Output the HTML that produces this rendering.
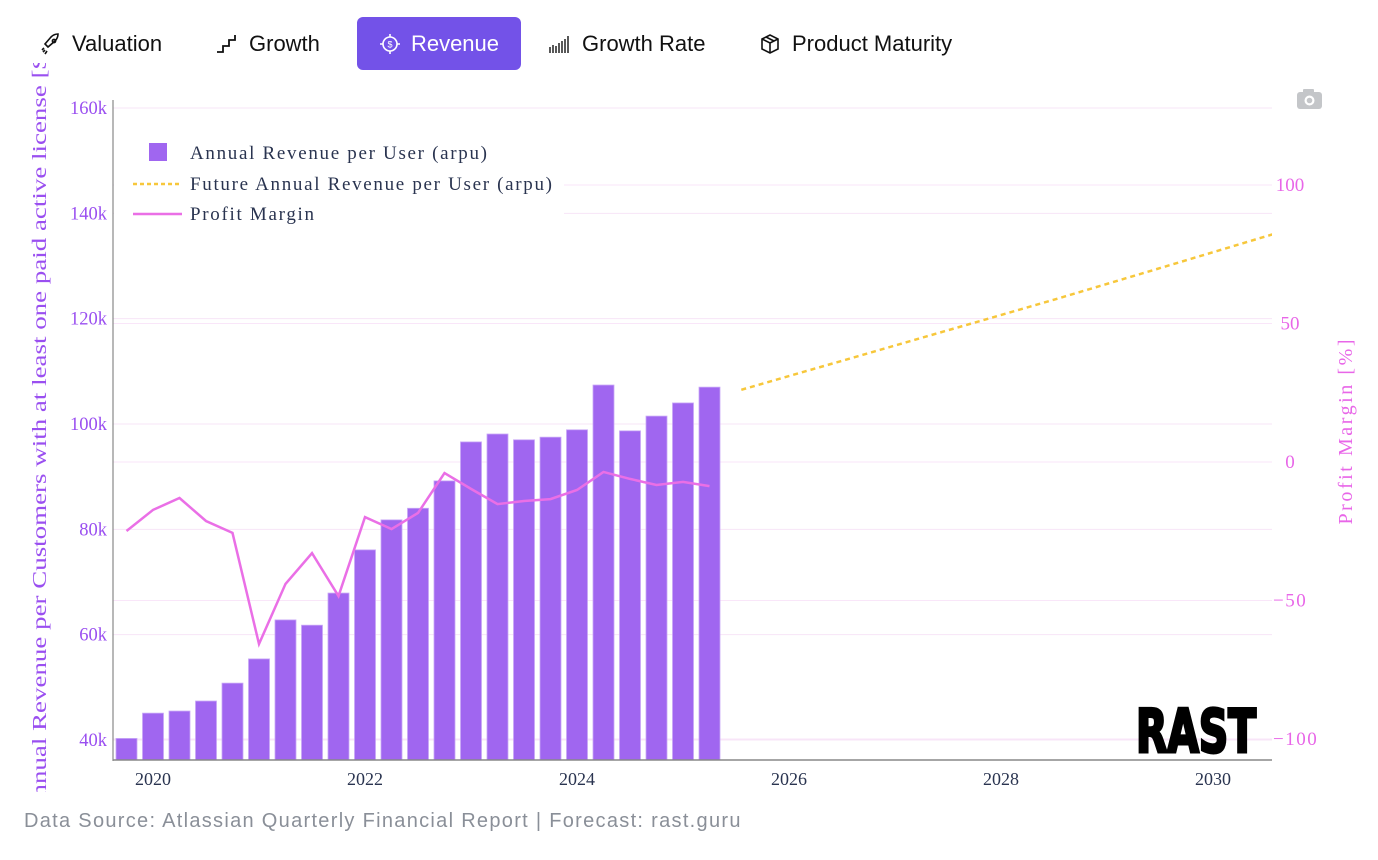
<!DOCTYPE html>
<html><head><meta charset="utf-8">
<style>
body{margin:0;width:1378px;height:860px;background:#fff;overflow:hidden;font-family:"Liberation Sans",sans-serif;}
.tab{position:absolute;top:17px;height:53px;display:flex;align-items:center;font-size:22px;color:#111;border-radius:6px;}
.tab svg{margin-right:10px}
#active{background:#7352e8;color:#fff;}
#src{position:absolute;left:24px;top:810px;font-size:20px;color:#8a8f98;letter-spacing:1.3px}
</style></head><body>
<div class="tab" style="left:40px;padding:0"><svg width="22" height="22" viewBox="0 0 22 22" fill="none" stroke="#111" stroke-width="1.6"><path d="M8 14l-3-3 6-7c2-2 5-3 7-3 0 2-1 5-3 7l-7 6z"/><circle cx="14" cy="8" r="1.6"/><path d="M5 17l-2 2M7 18l-2 3M4 15l-2 2"/></svg>Valuation</div>
<div class="tab" style="left:215px"><svg width="24" height="22" viewBox="0 0 24 22" fill="none" stroke="#111" stroke-width="1.8"><path d="M2 19h6v-6h6v-6h6V2"/></svg>Growth</div>
<div class="tab" id="active" style="left:357px;width:164px;justify-content:center"><svg width="22" height="22" viewBox="0 0 22 22" fill="none" stroke="#fff" stroke-width="1.6"><circle cx="11" cy="11" r="7"/><path d="M11 1v3M11 18v3M1 11h3M18 11h3"/><text x="11" y="14.5" font-size="9" text-anchor="middle" fill="#fff" stroke="none" font-family="Liberation Sans">$</text></svg>Revenue</div>
<div class="tab" style="left:548px"><svg width="24" height="22" viewBox="0 0 24 22" stroke="#111" stroke-width="1.4"><path d="M2 20v-6M5 20v-8M8 20v-7M11 20v-10M14 20v-12M17 20v-14M20 20v-17"/></svg>Growth Rate</div>
<div class="tab" style="left:758px"><svg width="24" height="22" viewBox="0 0 24 22" fill="none" stroke="#111" stroke-width="1.6"><path d="M4 6l8-4 8 4v10l-8 4-8-4z"/><path d="M4 6l8 4 8-4M12 10v10M8 4l8 4"/></svg>Product Maturity</div>

<svg id="chart" width="1378" height="860" style="position:absolute;left:0;top:0"></svg>
<div id="src">Data Source: Atlassian Quarterly Financial Report | Forecast: rast.guru</div>

<script>
const barDates = [2019.75,2020,2020.25,2020.5,2020.75,2021,2021.25,2021.5,2021.75,2022,2022.25,2022.5,2022.75,2023,2023.25,2023.5,2023.75,2024,2024.25,2024.5,2024.75,2025,2025.25];
const arpu = [40.3,45.1,45.5,47.4,50.8,55.4,62.8,61.8,67.9,76.1,81.8,84,89.2,96.6,98.1,97,97.5,98.9,107.4,98.7,101.5,104,107];
const profitMargin = [-24.9,-17.3,-13,-21.3,-25.6,-65.7,-44,-32.9,-48.4,-19.9,-24.2,-18.4,-4,-9.7,-15.2,-14.1,-13.4,-10.1,-3.6,-6.1,-8.3,-7.2,-8.7];
const futureDates = [2025.55,2026.5,2027.5,2028.5,2029.5,2030.56];
const futureArpu = [106.5,112,117.8,123.6,129.6,136];
const leftTicks = [40,60,80,100,120,140,160];
const leftTickLabels = ["40k","60k","80k","100k","120k","140k","160k"];
const rightTicks = [-100,-50,0,50,100];
const rightTickLabels = ["−100","−50","0","50","100"];
const xTicks = [2020,2022,2024,2026,2028,2030];

const NS="http://www.w3.org/2000/svg";
const svg=document.getElementById('chart');
const X0=113,X1=1272,Y0=100,Y1=760;
const xs=d=>153+(d-2020)*106;
const yl=v=>740-(v-40)*(632/120);
const yr=v=>462-v*2.77;
function mk(t,a,p){const e=document.createElementNS(NS,t);for(const k in a)e.setAttribute(k,a[k]);(p||svg).appendChild(e);return e;}

const defs=mk('defs',{});
const cp=mk('clipPath',{id:'plot'},defs);mk('rect',{x:X0,y:Y0,width:X1-X0,height:Y1-Y0},cp);
const ct=mk('clipPath',{id:'ttl'},defs);mk('rect',{x:0,y:63,width:100,height:729},ct);

leftTicks.forEach((v,i)=>{
 const g=mk('line',{x1:X0,x2:X1,y1:yl(v),y2:yl(v),stroke:'#f7e4f7','stroke-width':1});
 
 const t=mk('text',{x:107,y:yl(v)+6,'text-anchor':'end','font-size':18.5,fill:'#9a4ff0','font-family':'Liberation Serif'});
 t.textContent=leftTickLabels[i];
 
});
rightTicks.forEach((v,i)=>{
 const g=mk('line',{x1:X0,x2:X1,y1:yr(v),y2:yr(v),stroke:'#f9e6f9','stroke-width':1});
 
 const t=mk('text',{x:v<0?1273:1290,y:yr(v)+6,'text-anchor':v<0?'start':'middle','font-size':19,fill:'#e866e8','font-family':'Liberation Serif','letter-spacing':v<0?'1.5':'0'});
 t.textContent=rightTickLabels[i];
 
});
xTicks.forEach(v=>{
 const t=mk('text',{x:xs(v),y:785,'text-anchor':'middle','font-size':18,fill:'#2a3450','font-family':'Liberation Serif'});
 t.textContent=v;
 
});

const pg=mk('g',{'clip-path':'url(#plot)'});
barDates.forEach((d,i)=>{
 const b=mk('rect',{x:xs(d)-10.5,y:yl(arpu[i]),width:21,height:Y1-yl(arpu[i]),fill:'#a066f0',stroke:'#c9a8f7','stroke-width':0.8},pg);
 
});
const fl=mk('polyline',{points:futureDates.map((d,i)=>xs(d)+','+yl(futureArpu[i])).join(' '),fill:'none',stroke:'#f7c73b','stroke-width':2.5,'stroke-dasharray':'5,4'},pg);

const pl=mk('polyline',{points:barDates.map((d,i)=>xs(d)+','+yr(profitMargin[i])).join(' '),fill:'none',stroke:'#ea6fe6','stroke-width':2.5},pg);


const la=mk('line',{x1:X0,x2:X0,y1:Y0,y2:Y1+1,stroke:'#888','stroke-width':1.2});

const ba=mk('line',{x1:X0,x2:X1,y1:Y1,y2:Y1,stroke:'#888','stroke-width':1.5});


// legend
const lg=mk('g',{});

mk('rect',{x:114,y:128,width:450,height:100,fill:'#fff'},lg);
mk('rect',{x:149,y:143,width:18,height:18,fill:'#a066f0'},lg);
mk('line',{x1:133,x2:182,y1:184,y2:184,stroke:'#f7c73b','stroke-width':2.5,'stroke-dasharray':'4,3'},lg);
mk('line',{x1:133,x2:182,y1:214,y2:214,stroke:'#ea6fe6','stroke-width':2.5},lg);
[["Annual Revenue per User (arpu)",159,297],["Future Annual Revenue per User (arpu)",190,362],["Profit Margin",220,124]].forEach(([s,y,w])=>{
 const t=mk('text',{x:190,y:y,'font-size':19,fill:'#2a3450','font-family':'Liberation Serif',textLength:w,lengthAdjust:'spacing'},lg);
 t.textContent=s;
 
});

// axis titles
const tg=mk('g',{'clip-path':'url(#ttl)'});
const lt=mk('text',{x:0,y:0,transform:'translate(46,432) rotate(-90)','text-anchor':'middle','font-size':19.5,fill:'#9a4ff0','font-family':'Liberation Serif',textLength:770,lengthAdjust:'spacingAndGlyphs'},tg);
lt.textContent='Annual Revenue per Customers with at least one paid active license [$]';

const rt=mk('text',{x:0,y:0,transform:'translate(1352,432) rotate(-90)','text-anchor':'middle','font-size':20,fill:'#e866e8','font-family':'Liberation Serif',textLength:185,lengthAdjust:'spacing'});
rt.textContent='Profit Margin [%]';


// camera
const cam=mk('g',{fill:'#c4c6c9'});

mk('rect',{x:1297,y:92,width:25,height:17,rx:3},cam);
mk('rect',{x:1303,y:89,width:11,height:5,rx:1},cam);
mk('circle',{cx:1309.5,cy:100.5,r:5,fill:'#fff'},cam);
mk('circle',{cx:1309.5,cy:100.5,r:2.8},cam);

// logo
const lo=mk('text',{x:1136,y:752,'font-size':60,'font-weight':'bold',fill:'#000',stroke:'#000','stroke-width':3,'font-family':'DejaVu Sans Condensed, Liberation Sans, sans-serif',textLength:120,lengthAdjust:'spacingAndGlyphs'});
lo.textContent='RAST';

</script>
</body></html>
